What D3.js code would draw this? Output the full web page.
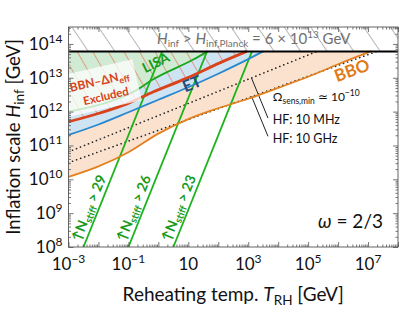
<!DOCTYPE html>
<html>
<head>
<meta charset="utf-8">
<script src="https://cdn.jsdelivr.net/npm/d3@7"></script>
<style>
  body { margin: 0; background: #fff; }
  text { font-family: "Lato", sans-serif; }
</style>
</head>
<body>
<script>
// all curves: [log10(T_RH/GeV), log10(H_inf/GeV)]
var lisaCurve = [[-3,12.0],[-1.6,12.3],[-0.7,12.65],[-0.2,12.94],[1.15,13.53],[1.65,13.78]]
var bbnCurve  = [[-3,11.7],[-1.95,11.96],[-1.05,12.23],[-0.18,12.58],[0.95,12.99],[2.05,13.44],[2.95,13.78]]
var etCurve   = [[-3,11.31],[-2,11.62],[-1,11.98],[0,12.35],[1,12.72],[2,13.12],[3,13.55],[3.5,13.78]]
var bboCurve  = [[-3,10.07],[-2,10.38],[-1,10.8],[0,11.35],[1,11.78],[2,12.1],[3,12.38],[4,12.7],[5,13.03],[6,13.4],[7.1,13.78]]
var hf10MHz   = [[-3,10.81],[5.3,13.78]]
var hf10GHz   = [[-3,10.49],[7.3,13.78]]
var pointers  = [[[3.11,12.99],[3.66,11.81]], [[3.11,12.45],[3.66,11.27]]]
var stiffStart  = [-2.5, -1.0, 0.5]     // log T where the N_stiff line meets H = 1e8
var stiffLabels = ["29", "26", "23"]
var stiffSlope  = 2.2
var hPlanck = 6e13
var xMajor = [-3,-2,-1,0,1,2,3,4,5,6,7,8]
var xLabels = [-3,-1,1,3,5,7]
var yMajor = [8,9,10,11,12,13,14]

var width = 403, height = 311
var pL = 68.5, pR = 398, pT = 27, pB = 247

var x = d3.scaleLog().domain([1e-3, 1e8]).range([pL, pR])
var y = d3.scaleLog().domain([1e8, Math.pow(10, 14.5)]).range([pB, pT])
var px = function(d){ return x(Math.pow(10, d[0])) }
var py = function(d){ return y(Math.pow(10, d[1])) }
var lp = Math.log10(hPlanck)

var svg = d3.select("body").append("svg")
    .attr("width", width)
    .attr("height", height)

var defs = svg.append("defs")
defs.append("clipPath").attr("id", "clip")
  .append("rect").attr("x", pL).attr("y", pT)
  .attr("width", pR - pL).attr("height", pB - pT)

function hatch(id, gap, color, w, ang) {
  var p = defs.append("pattern").attr("id", id)
      .attr("patternUnits", "userSpaceOnUse")
      .attr("width", gap).attr("height", gap)
      .attr("patternTransform", "rotate(" + ang + ")")
  p.append("line").attr("x1", 0).attr("y1", -1).attr("x2", 0).attr("y2", gap + 1)
      .style("stroke", color).style("stroke-width", w)
}
hatch("grayHatch", 22, "#8f8f8f", 1.3, -34)
hatch("redHatch", 13.5, "#e0653e", 1.1, -30)

var line = d3.line().x(px).y(py).curve(d3.curveMonotoneX)
var plot = svg.append("g").attr("clip-path", "url(#clip)")

function regionSmooth(curve, fill) {
  var d = line(curve) + "L" + px([-3, lp]) + "," + py([-3, lp]) + "Z"
  plot.append("path").attr("d", d).style("fill", fill).style("stroke", "none")
}
regionSmooth(bboCurve, "#fae2cf")
regionSmooth(etCurve, "#cfe4f3")
regionSmooth(lisaCurve, "#d0eAd4")
regionSmooth(bbnCurve, "url(#redHatch)")

// above Planck bound
plot.append("rect").attr("x", pL).attr("y", pT)
  .attr("width", pR - pL).attr("height", y(hPlanck) - pT)
  .style("fill", "url(#grayHatch)")

// HF sensitivity lines
;[hf10MHz, hf10GHz].forEach(function(c){
  plot.append("path").attr("d", d3.line().x(px).y(py)(c))
    .style("fill", "none").style("stroke", "#222")
    .style("stroke-width", 1.6).style("stroke-dasharray", "0.1 4.2")
    .style("stroke-linecap", "round")
})
pointers.forEach(function(c){
  plot.append("path").attr("d", d3.line().x(px).y(py)(c))
    .style("fill", "none").style("stroke", "#222").style("stroke-width", 1)
})

// N_stiff lines
stiffStart.forEach(function(s){
  var c = [[s, 8], [s + (lp - 8) / stiffSlope, lp]]
  plot.append("path").attr("d", d3.line().x(px).y(py)(c))
    .style("fill", "none").style("stroke", "#1db31d").style("stroke-width", 1.8)
})

function curveLine(c, color, w) {
  plot.append("path").attr("d", line(c))
    .style("fill", "none").style("stroke", color).style("stroke-width", w)
}
curveLine(bboCurve, "#e4811f", 1.8)
curveLine(etCurve, "#2a87cc", 1.8)
curveLine(lisaCurve, "#1aa61a", 1.8)
curveLine(bbnCurve, "#d8431b", 2.8)

plot.append("line").attr("x1", pL).attr("x2", pR)
  .attr("y1", y(hPlanck)).attr("y2", y(hPlanck))
  .style("stroke", "#000").style("stroke-width", 2)

// BBN label box
var bbn = svg.append("g").attr("transform", "translate(101,88) rotate(-13)")
bbn.append("rect").attr("x", -37).attr("y", -21).attr("width", 74).attr("height", 42)
  .style("fill", "#fff").style("fill-opacity", 0.75)
var t1 = bbn.append("text").attr("x", 0).attr("y", -3).attr("text-anchor", "middle")
  .style("font-size", "12px").style("font-weight", "bold").style("fill", "#d8431b")
t1.append("tspan").text("BBN–ΔN")
t1.append("tspan").attr("dy", 3).style("font-size", "9px").text("eff")
bbn.append("text").attr("x", 3).attr("y", 13).attr("text-anchor", "middle")
  .style("font-size", "11.5px").style("font-weight", "bold").style("fill", "#d8431b")
  .text("Excluded")

svg.append("text").attr("transform", "translate(158,67) rotate(-26)")
  .attr("text-anchor", "middle").style("font-size", "14px").style("font-weight", "bold")
  .style("fill", "#1a9a1a").text("LISA")
svg.append("text").attr("transform", "translate(194,89) rotate(-22)")
  .attr("text-anchor", "middle").style("font-size", "16px").style("font-weight", "bold")
  .style("fill", "#1f4f7a").text("ET")
svg.append("text").attr("transform", "translate(354,76) rotate(-20)")
  .attr("text-anchor", "middle").style("font-size", "17px").style("font-weight", "bold")
  .style("fill", "#e07b1c").text("BBO")

// top bound label
var tl = svg.append("text").attr("x", 157).attr("y", 44)
  .style("font-size", "15px").style("fill", "#707070")
tl.append("tspan").style("font-style", "italic").text("H")
tl.append("tspan").attr("dy", 3).style("font-size", "10px").text("inf")
tl.append("tspan").attr("dy", -3).text(" > ")
tl.append("tspan").style("font-style", "italic").text("H")
tl.append("tspan").attr("dy", 3).style("font-size", "10px").text("inf,Planck")
tl.append("tspan").attr("dy", -3).text(" = 6 × 10")
tl.append("tspan").attr("dy", -6).style("font-size", "10px").text("13")
tl.append("tspan").attr("dy", 6).text(" GeV")

// N_stiff labels
stiffStart.forEach(function(s, i){
  var cy = 208
  var lh = Math.log10(y.invert(cy))
  var cx = px([s + (lh - 8) / stiffSlope, lh]) - 10.5
  var t = svg.append("text").attr("transform", "translate(" + cx + "," + cy + ") rotate(-68)")
    .attr("text-anchor", "middle").attr("dy", 5)
    .style("font-size", "14px").style("font-weight", "bold")
    .style("fill", "#1a9a1a")
  t.append("tspan").text("↑N")
  t.append("tspan").attr("dy", 3).style("font-size", "10px").text("stiff")
  t.append("tspan").attr("dy", -3).text(" > " + stiffLabels[i])
})

// HF labels
var om = svg.append("text").attr("x", x(Math.pow(10, 3.82))).attr("y", 101)
  .style("font-size", "12px").style("fill", "#111")
om.append("tspan").text("Ω")
om.append("tspan").attr("dy", 3).style("font-size", "8.5px").text("sens,min")
om.append("tspan").attr("dy", -3).text(" ≃ 10")
om.append("tspan").attr("dy", -5).style("font-size", "8.5px").text("−10")
svg.append("text").attr("x", x(Math.pow(10, 3.82))).attr("y", 124)
  .style("font-size", "12.5px").style("fill", "#111").text("HF: 10 MHz")
svg.append("text").attr("x", x(Math.pow(10, 3.82))).attr("y", 143)
  .style("font-size", "12.5px").style("fill", "#111").text("HF: 10 GHz")

var om2 = svg.append("text").attr("x", 383).attr("y", 228).attr("text-anchor", "end")
  .style("font-size", "19px").style("fill", "#111")
om2.append("tspan").style("font-style", "italic").text("ω")
om2.append("tspan").text(" = 2/3")

// axes
function minors(lo, hi) {
  var m = []
  for (var k = lo; k < hi; k++) for (var j = 2; j < 10; j++) m.push(j * Math.pow(10, k))
  return m
}
var xm = xMajor.map(function(e){ return Math.pow(10, e) })
var ym = yMajor.map(function(e){ return Math.pow(10, e) })
var xmin = minors(-3, 8), ymin = minors(8, 15).filter(function(v){ return v < Math.pow(10,14.5) })

function styleAxis(g) {
  g.select(".domain").remove()
  g.selectAll(".tick line").style("stroke", "#555").style("stroke-width", 0.8)
}
svg.append("g").attr("transform", "translate(0," + pB + ")")
  .call(d3.axisBottom(x).tickValues(xm).tickSize(-5).tickFormat("")).call(styleAxis)
svg.append("g").attr("transform", "translate(0," + pB + ")")
  .call(d3.axisBottom(x).tickValues(xmin).tickSize(-2.5).tickFormat("")).call(styleAxis)
svg.append("g").attr("transform", "translate(0," + pT + ")")
  .call(d3.axisTop(x).tickValues(xm).tickSize(-5).tickFormat("")).call(styleAxis)
svg.append("g").attr("transform", "translate(0," + pT + ")")
  .call(d3.axisTop(x).tickValues(xmin).tickSize(-2.5).tickFormat("")).call(styleAxis)
svg.append("g").attr("transform", "translate(" + pL + ",0)")
  .call(d3.axisLeft(y).tickValues(ym).tickSize(-5).tickFormat("")).call(styleAxis)
svg.append("g").attr("transform", "translate(" + pL + ",0)")
  .call(d3.axisLeft(y).tickValues(ymin).tickSize(-2.5).tickFormat("")).call(styleAxis)
svg.append("g").attr("transform", "translate(" + pR + ",0)")
  .call(d3.axisRight(y).tickValues(ym).tickSize(-5).tickFormat("")).call(styleAxis)
svg.append("g").attr("transform", "translate(" + pR + ",0)")
  .call(d3.axisRight(y).tickValues(ymin).tickSize(-2.5).tickFormat("")).call(styleAxis)

svg.append("rect").attr("x", pL).attr("y", pT)
  .attr("width", pR - pL).attr("height", pB - pT)
  .style("fill", "none").style("stroke", "#555").style("stroke-width", 0.9)

function powLabel(sel, e) {
  sel.append("tspan").text("10")
  if (e !== 1) sel.append("tspan").attr("dy", -7).style("font-size", "12px").text(String(e).replace("-", "−"))
}
xLabels.forEach(function(e){
  var t = svg.append("text").attr("x", x(Math.pow(10, e))).attr("y", 270)
    .attr("text-anchor", "middle").style("font-size", "17px").style("fill", "#111")
  powLabel(t, e)
})
yMajor.forEach(function(e){
  var t = svg.append("text").attr("x", pL - 6).attr("y", y(Math.pow(10, e)) + 6)
    .attr("text-anchor", "end").style("font-size", "17px").style("fill", "#111")
  powLabel(t, e)
})

var xl = svg.append("text").attr("x", (pL + pR) / 2).attr("y", 301)
  .attr("text-anchor", "middle").style("font-size", "19px").style("fill", "#111")
xl.append("tspan").text("Reheating temp. ")
xl.append("tspan").style("font-style", "italic").text("T")
xl.append("tspan").attr("dy", 4).style("font-size", "13.5px").text("RH")
xl.append("tspan").attr("dy", -4).text(" [GeV]")

var yl = svg.append("text").attr("transform", "translate(20," + (pT + pB) / 2 + ") rotate(-90)")
  .attr("text-anchor", "middle").style("font-size", "18.5px").style("fill", "#111")
yl.append("tspan").text("Inflation scale ")
yl.append("tspan").style("font-style", "italic").text("H")
yl.append("tspan").attr("dy", 4).style("font-size", "13.5px").text("inf")
yl.append("tspan").attr("dy", -4).text(" [GeV]")
</script>
</body>
</html>
